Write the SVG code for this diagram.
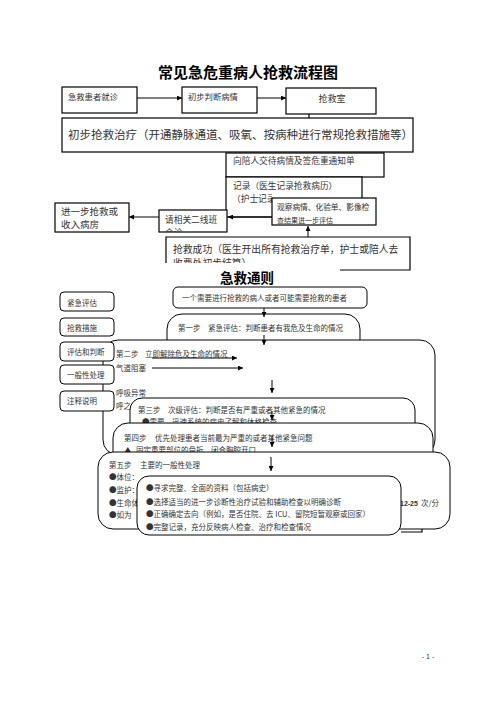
<svg xmlns="http://www.w3.org/2000/svg" width="496" height="702" viewBox="0 0 496 702">
<style>
.bx{fill:#fff;stroke:#000;stroke-width:1.2}
.rb{fill:#fff;stroke:#000;stroke-width:1}
.t{font-family:"Noto Sans CJK SC","Noto Sans",sans-serif;fill:#333}
.s{font-size:7.5px}
.ln{stroke:#000;stroke-width:1.2;fill:none}
.al{stroke:#000;stroke-width:1;fill:none;marker-end:url(#ah)}
</style>
<defs>
<marker id="ah" viewBox="0 0 6 6" refX="6" refY="3" markerWidth="5" markerHeight="5" markerUnits="userSpaceOnUse" orient="auto"><path d="M0,0 L6,3 L0,6 z" fill="#000"/></marker>
<clipPath id="c1"><rect x="150" y="200" width="90" height="32.5"/></clipPath>
<clipPath id="c2"><rect x="160" y="240" width="260" height="23"/></clipPath>
<clipPath id="c3"><rect x="226" y="190" width="46" height="20"/></clipPath>
</defs>
<rect width="496" height="702" fill="#fff"/>

<text x="248" y="77.7" text-anchor="middle" font-family="'Noto Sans CJK SC',sans-serif" font-size="15" font-weight="bold" fill="#000">常见急危重病人抢救流程图</text>

<g id="n-arrive"><rect class="bx" x="62" y="87" width="75" height="26"/><text class="t" x="68" y="100" font-size="8.3">急救患者就诊</text></g>
<g id="n-judge"><rect class="bx" x="182" y="87" width="75" height="26"/><text class="t" x="188" y="100" font-size="8.3">初步判断病情</text></g>
<g id="n-room"><rect class="bx" x="286" y="88" width="90" height="26"/><text class="t" x="332" y="101.5" font-size="9" text-anchor="middle">抢救室</text></g>
<g id="n-treat"><rect class="bx" x="62" y="118" width="351" height="34"/><text class="t" x="68" y="139.4" font-size="11.5">初步抢救治疗（开通静脉通道、吸氧、按病种进行常规抢救措施等）</text></g>
<g id="n-inform"><rect class="bx" x="226" y="153" width="158" height="24"/><text class="t" x="233" y="164.3" font-size="8.7">向陪人交待病情及签危重通知单</text></g>
<g id="n-record"><rect class="bx" x="226" y="177" width="136" height="40"/><text class="t" x="233" y="189.3" font-size="8.7">记录（医生记录抢救病历）</text><text class="t" x="232" y="202.3" font-size="8.7" clip-path="url(#c3)">（护士记录</text></g>
<g id="n-observe"><rect class="bx" x="272" y="198" width="104" height="27"/><text class="t" x="277" y="210" font-size="7.7">观察病情、化验单、影像检</text><text class="t" x="277" y="222.5" font-size="7">查结果进一步评估</text></g>
<g id="n-further"><rect class="bx" x="55" y="203" width="74" height="29"/><text class="t" x="61" y="214.6" font-size="9.5">进一步抢救或</text><text class="t" x="61" y="228.3" font-size="9.5">收入病房</text></g>
<g id="n-consult"><rect class="bx" x="159" y="210" width="68" height="22"/><text class="t" x="165" y="223" font-size="8.7">请相关二线班</text><text class="t" x="165" y="236" font-size="8.7" clip-path="url(#c1)">会诊</text></g>
<g id="n-success"><path class="ln" d="M166,263 V237 H410 V270 H340"/><text class="t" x="173" y="252.5" font-size="9.8">抢救成功（医生开出所有抢救治疗单，护士或陪人去</text><text class="t" x="173" y="266.8" font-size="9.8" clip-path="url(#c2)">收费处初步结算）</text></g>

<text x="247" y="283" text-anchor="middle" font-family="'Noto Sans CJK SC',sans-serif" font-size="13.5" font-weight="bold" fill="#000">急救通则</text>

<g id="g-patient"><rect class="rb" x="173" y="287" width="194" height="21" rx="5"/><text class="t s" x="182" y="300.9">一个需要进行抢救的病人或者可能需要抢救的患者</text></g>
<g id="g-step1"><rect class="rb" x="167" y="314" width="193" height="40" rx="15"/><text class="t s" x="178" y="330.9">第一步</text><text class="t s" x="208" y="330.9">紧急评估：判断患者有我危及生命的情况</text></g>
<g id="g-step2"><rect class="rb" x="103" y="340" width="332" height="115" rx="15"/>
<text class="t s" x="116" y="356.9">第二步</text><text class="t s" x="145" y="356.9">立即解除危及生命的情况</text>
<text class="t s" x="116" y="371">气道阻塞</text>
<text class="t s" x="116" y="396">呼吸异常</text>
<text class="t s" x="116" y="408.5">呼之</text></g>

<g id="l-1"><rect class="rb" x="60" y="292" width="54" height="19" rx="4"/><text class="t s" x="67" y="305.9">紧急评估</text></g>
<g id="l-2"><rect class="rb" x="60" y="318" width="54" height="18" rx="4"/><text class="t s" x="67" y="330.9">抢救措施</text></g>
<g id="l-3"><rect class="rb" x="60" y="342" width="54" height="19" rx="4"/><text class="t s" x="67" y="354.9">评估和判断</text></g>
<g id="l-4"><rect class="rb" x="60" y="365" width="54" height="19" rx="4"/><text class="t s" x="67" y="377.9">一般性处理</text></g>
<g id="l-5"><rect class="rb" x="60" y="391" width="54" height="20" rx="4"/><text class="t s" x="67" y="403.9">注释说明</text></g>

<g id="g-step3"><rect class="rb" x="130" y="398" width="285" height="45" rx="12"/><text class="t s" x="138" y="412.9">第三步</text><text class="t s" x="168" y="412.9">次级评估：判断是否有严重或者其他紧急的情况</text><text class="t s" x="142" y="425">●需要，迅速系统的病史了解和体格检查</text></g>
<g id="g-step4"><rect class="rb" x="113" y="423" width="320" height="45" rx="15"/><text class="t s" x="124" y="440.9">第四步</text><text class="t s" x="155" y="440.9">优先处理患者当前最为严重的或者其他紧急问题</text><text class="t s" x="124" y="453">▲</text><text class="t s" x="136" y="453">固定重要部位的骨折、闭合胸腔开口</text></g>
<path class="ln" d="M401,532 H422 V526" stroke-width="1"/>
<g id="g-step5"><rect class="rb" x="98" y="452" width="352" height="77" rx="15"/>
<text class="t s" x="109" y="468">第五步</text><text class="t s" x="140" y="468">主要的一般性处理</text>
<text class="t s" x="109" y="480">●体位：</text>
<text class="t s" x="109" y="493">●监护：</text>
<text class="t s" x="109" y="506">●生命体</text>
<text class="t s" x="109" y="518">●如为</text>
<text x="400" y="506" font-family="'Liberation Sans',sans-serif" font-size="7" font-weight="bold" fill="#333">12-25</text><text class="t s" x="421" y="506">次/分</text></g>
<g id="g-notes"><rect class="rb" x="137" y="476" width="264" height="59" rx="12"/>
<text class="t s" x="146" y="491">●寻求完整、全面的资料（包括病史）</text>
<text class="t s" x="146" y="505">●选择适当的进一步诊断性治疗试验和辅助检查以明确诊断</text>
<text class="t s" x="146" y="517">●正确确定去向（例如，是否住院、去 ICU、留院短暂观察或回家）</text>
<text class="t s" x="146" y="530">●完整记录，充分反映病人检查、治疗和检查情况</text></g>

<g id="connectors">
<path class="al" d="M137,98 H182"/>
<path class="al" d="M257,98 H286"/>
<path class="ln" d="M309,114 V118"/>
<path class="al" d="M159,217 H129"/>
<path class="al" d="M272,217 H228"/>
<path class="al" d="M308,237 V226"/>
<path class="al" d="M264,308 V317"/>
<path class="al" d="M264,335 V345"/>
<path class="al" d="M152,358 H237"/>
<path class="al" d="M152,368 H243"/>
<path class="al" d="M272,380 V393"/>
<path class="al" d="M272,411 V420"/>
<path class="al" d="M272,436 V447"/>
<path class="al" d="M271,457 V471"/>
</g>

<text x="428" y="658.5" text-anchor="middle" font-family="'Liberation Sans',sans-serif" font-size="7" fill="#333">- 1 -</text>
</svg>
